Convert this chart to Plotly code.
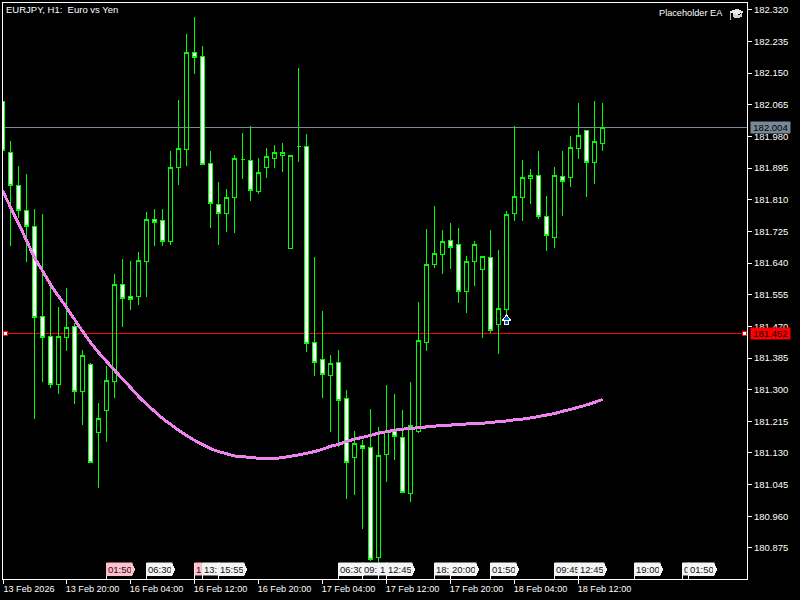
import plotly.graph_objects as go

# ---- data ----
opens = [182.073,181.937,181.849,181.781,181.738,181.496,181.442,181.315,181.441,181.469,181.296,181.367,181.184,181.245,181.321,181.582,181.550,181.549,181.645,181.757,181.754,181.697,181.898,181.946,182.205,182.194,181.907,181.797,181.774,181.816,181.918,181.915,181.831,181.898,181.922,181.930,181.680,181.953,181.953,181.426,181.381,181.339,181.372,181.276,181.118,181.150,181.144,180.849,181.125,181.189,181.171,181.021,181.189,181.428,181.637,181.664,181.700,181.690,181.565,181.645,181.624,181.655,181.474,181.514,181.772,181.817,181.866,181.875,181.765,181.710,181.872,181.871,181.949,181.996,181.911,181.962]
highs = [182.073,181.967,181.900,181.878,181.784,181.771,181.580,181.522,181.572,181.480,181.406,181.373,181.265,181.363,181.610,181.650,181.645,181.669,181.778,181.784,181.786,181.940,182.077,182.254,182.300,182.222,181.940,181.859,181.838,181.929,181.988,182.007,181.921,181.948,181.956,181.962,181.928,182.163,181.986,181.655,181.510,181.392,181.406,181.298,181.188,181.164,181.247,181.199,181.312,181.288,181.245,181.320,181.535,181.731,181.792,181.728,181.747,181.733,181.658,181.698,181.657,181.728,181.674,181.779,182.007,181.916,181.892,181.940,181.819,181.897,181.940,181.982,182.069,181.996,182.074,182.069]
lows = [181.941,181.685,181.760,181.643,181.221,181.321,181.304,181.288,181.404,181.261,181.204,181.104,181.036,181.159,181.278,181.468,181.513,181.527,181.549,181.686,181.686,181.688,181.849,181.901,182.148,181.906,181.734,181.688,181.723,181.721,181.865,181.807,181.825,181.868,181.895,181.884,181.680,181.911,181.401,181.337,181.278,181.186,181.146,181.006,181.017,180.925,180.840,180.837,181.052,181.110,181.025,180.998,181.185,181.403,181.627,181.611,181.623,181.533,181.506,181.578,181.439,181.452,181.396,181.495,181.753,181.753,181.798,181.758,181.672,181.680,181.766,181.844,181.919,181.817,181.852,181.941]
closes = [181.941,181.849,181.780,181.739,181.495,181.439,181.315,181.442,181.467,181.294,181.391,181.104,181.222,181.324,181.582,181.546,181.543,181.647,181.757,181.749,181.699,181.896,181.947,182.205,182.193,181.906,181.799,181.774,181.816,181.920,181.918,181.834,181.883,181.926,181.937,181.937,181.928,181.953,181.424,181.372,181.342,181.370,181.270,181.104,181.155,181.141,180.845,181.123,181.189,181.173,181.025,181.203,181.432,181.636,181.665,181.698,181.683,181.565,181.644,181.690,181.657,181.460,181.518,181.770,181.818,181.869,181.875,181.764,181.713,181.875,181.858,181.950,181.982,181.911,181.966,182.004]
ma_values = [181.835,181.790,181.747,181.701,181.655,181.619,181.583,181.551,181.521,181.489,181.457,181.427,181.400,181.376,181.352,181.329,181.306,181.282,181.261,181.242,181.223,181.207,181.191,181.177,181.164,181.153,181.142,181.134,181.128,181.122,181.120,181.118,181.116,181.115,181.115,181.118,181.121,181.125,181.129,181.134,181.140,181.148,181.153,181.161,181.167,181.172,181.177,181.183,181.187,181.191,181.194,181.196,181.198,181.200,181.202,181.204,181.205,181.206,181.208,181.209,181.210,181.212,181.214,181.216,181.219,181.221,181.224,181.228,181.232,181.236,181.242,181.247,181.253,181.259,181.266,181.274]

price_ticks = [182.320,182.235,182.150,182.065,181.980,181.895,181.810,181.725,181.640,181.555,181.470,181.385,181.300,181.215,181.130,181.045,180.960,180.875]
time_labels = ["13 Feb 2026","13 Feb 20:00","16 Feb 04:00","16 Feb 12:00","16 Feb 20:00","17 Feb 04:00","17 Feb 12:00","17 Feb 20:00","18 Feb 04:00","18 Feb 12:00"]
bid_price = 182.004
stop_price = 181.452
signal_bar = 63
signal_price = 181.480

event_labels = ["01:50","06:30","1","13:","15:55","06:30","09:","1","12:45","18:","20:00","01:50","09:45","12:45","19:00","0","01:50"]
event_bars = [12.94,17.94,23.97,24.94,26.94,41.94,44.94,46.94,47.94,53.94,55.94,60.94,68.94,71.94,78.94,84.94,85.69]
event_alert = [True,False,True,False,False,False,False,False,False,False,False,False,False,False,False,False,False]

# ---- layout geometry ----
W, H = 800, 600
L, R, T, B = 3, 53, 3, 21
PW, PH = W - L - R, H - T - B
BAR = 8.0
X0 = 2.5
def xp(px): return (px - L) / PW
def yp(py): return 1 - (py - T) / PH
FONT = "Liberation Sans"

bars = list(range(len(opens)))
GREEN = "#00ff00"
fig = go.Figure()
fig.add_trace(go.Candlestick(
    x=bars, open=opens, high=highs, low=lows, close=closes,
    whiskerwidth=0,
    increasing=dict(line=dict(color=GREEN, width=1), fillcolor="rgba(0,0,0,0)"),
    decreasing=dict(line=dict(color=GREEN, width=1), fillcolor="#ffffff"),
    showlegend=False, hoverinfo="skip"))
fig.add_trace(go.Scatter(x=bars, y=ma_values, mode="lines",
    line=dict(color="#ee82ee", width=3, shape="spline", smoothing=1.0), showlegend=False, hoverinfo="skip"))
fig.add_trace(go.Scatter(x=[0.375, 92.75], y=[stop_price, stop_price], mode="markers",
    marker=dict(symbol="square", size=4, color="white", line=dict(color="#ff0000", width=1)),
    showlegend=False, hoverinfo="skip"))
fig.add_trace(go.Scatter(x=[signal_bar], y=[signal_price], mode="markers",
    marker=dict(symbol="square", size=4, color="#0b5cad", line=dict(color="white", width=1)),
    showlegend=False, hoverinfo="skip"))
fig.add_trace(go.Scatter(x=[signal_bar], y=[signal_price + 0.010], mode="markers",
    marker=dict(symbol="triangle-up", size=8, color="#0b5cad", line=dict(color="white", width=1)),
    showlegend=False, hoverinfo="skip"))

shapes = [
    dict(type="line", xref="paper", x0=0, x1=1, yref="y", y0=bid_price, y1=bid_price,
         line=dict(color="#778899", width=1), layer="below"),
    dict(type="line", xref="paper", x0=0, x1=1, yref="y", y0=stop_price, y1=stop_price,
         line=dict(color="#ff0000", width=1), layer="below"),
]
annotations = []
for lab, b, alert in zip(event_labels, event_bars, event_alert):
    sx = b * BAR + X0
    fill = "#ffc0cb" if alert else "#f5f5f5"
    shapes.append(dict(type="line", xref="paper", yref="paper", x0=xp(sx), x1=xp(sx), y0=yp(563), y1=yp(579.5),
                       line=dict(color="white", width=1)))
    if len(lab) == 5:
        path = "M %f %f L %f %f L %f %f L %f %f L %f %f Z" % (
            xp(sx), yp(563.5), xp(sx + 26), yp(563.5), xp(sx + 29), yp(569.5),
            xp(sx + 26), yp(575.5), xp(sx), yp(575.5))
        shapes.append(dict(type="path", xref="paper", yref="paper", path=path,
                           fillcolor=fill, line=dict(width=0)))
for i, (lab, b, alert) in enumerate(zip(event_labels, event_bars, event_alert)):
    fill = "#ffc0cb" if alert else "#f5f5f5"
    next_gap = (event_bars[i + 1] - b) * BAR if i + 1 < len(event_bars) else 99
    w = min(25, next_gap - 0.5)
    annotations.append(dict(
        xref="x", yref="paper", x=b, y=yp(575.5), xanchor="left", yanchor="bottom",
        text=lab, showarrow=False, width=max(w - 2, 2), height=10, align="left", borderpad=1,
        bgcolor=fill, font=dict(family=FONT, size=9.5, color="#111111")))

for price, box, lbl_col in [(bid_price, "#778899", "#000000"), (stop_price, "#ff0000", "#000000")]:
    annotations.append(dict(
        xref="paper", yref="y", x=xp(750), y=price, xanchor="left", yanchor="middle",
        text="%.3f" % price, showarrow=False, width=39, height=11, borderpad=0,
        bgcolor=box, font=dict(family=FONT, size=9.5, color=lbl_col)))

annotations.append(dict(xref="paper", yref="paper", x=xp(724.5), y=yp(13.5), xanchor="right", yanchor="middle",
    text="Placeholder EA", showarrow=False, font=dict(family=FONT, size=9.2, color="white")))
def poly(pts):
    return "M " + " L ".join("%f %f" % (xp(a), yp(c)) for a, c in pts) + " Z"
shapes.append(dict(type="path", xref="paper", yref="paper",
    path=poly([(732.5, 13), (739, 15.5), (741.5, 13), (741.5, 17), (736, 18.5), (732.5, 17)]),
    fillcolor="#cfcfcf", line=dict(width=0)))
shapes.append(dict(type="path", xref="paper", yref="paper",
    path=poly([(729, 12), (737, 8.5), (744, 12), (737, 15)]),
    fillcolor="#e6e6e6", line=dict(width=0)))
shapes.append(dict(type="line", xref="paper", yref="paper", x0=xp(730.5), x1=xp(730.5), y0=yp(12), y1=yp(20),
    line=dict(color="#bdbdbd", width=1)))

xmin = (L - X0) / BAR
xmax = xmin + PW / BAR
tick_bars = [max(i * 8, xmin) for i in range(len(time_labels))]
ymax = 182.3384
ymin = 180.7916

fig.update_layout(
    width=W, height=H, margin=dict(l=L, r=R, t=T, b=B, pad=0),
    paper_bgcolor="#000000", plot_bgcolor="#000000", showlegend=False,
    boxgap=0.5, boxgroupgap=0,
    title=dict(text="EURJPY, H1:  Euro vs Yen", xref="container", yref="container", x=6 / W, xanchor="left",
               y=1 - 10 / H, yanchor="middle", font=dict(family=FONT, size=9.5, color="white")),
    xaxis=dict(range=[xmin, xmax], rangeslider=dict(visible=False), showgrid=False, zeroline=False,
               showline=True, mirror=True, linecolor="white", linewidth=1,
               tickmode="array", tickvals=tick_bars, ticktext=time_labels,
               ticks="outside", ticklen=4, tickwidth=1, tickcolor="white", ticklabelshift=26, ticklabelstandoff=-3,
               tickangle=0, tickfont=dict(family=FONT, size=9.1, color="white")),
    yaxis=dict(range=[ymin, ymax], side="right", showgrid=False, zeroline=False,
               showline=True, mirror=True, linecolor="white", linewidth=1,
               tickmode="array", tickvals=price_ticks, ticktext=["%.3f" % v for v in price_ticks],
               ticks="outside", ticklen=4, tickwidth=1, tickcolor="white",
               tickfont=dict(family=FONT, size=9.5, color="white")),
    shapes=shapes, annotations=annotations,
)
crisp = """
document.body.style.margin='0';
document.documentElement.style.overflow='hidden';
var gd=document.getElementById('{plot_id}');
function crisp(){gd.querySelectorAll('.boxlayer path, .shapelayer path, .scatterlayer path, .xtick, .ytick').forEach(function(p){p.style.shapeRendering='crispEdges';});}
gd.on('plotly_afterplot',crisp);
crisp();setTimeout(crisp,0);setTimeout(crisp,200);
"""
fig.write_html("out.html", config={"displayModeBar": False}, post_script=crisp)
